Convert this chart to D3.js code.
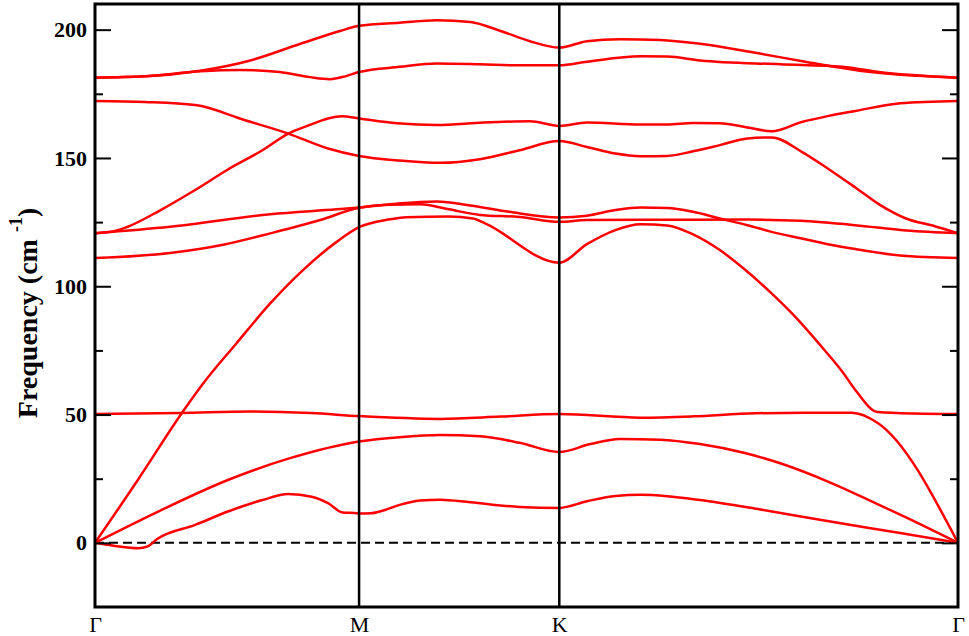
<!DOCTYPE html>
<html>
<head>
<meta charset="utf-8">
<script src="https://cdn.jsdelivr.net/npm/d3@7"></script>
<style>
  body { margin: 0; background: #fff; }
  svg { display: block; }
</style>
</head>
<body>
<svg id="chart" width="969" height="636"></svg>
<script>
// high symmetry points along the k-path (fraction of path length)
const kTicks = [0, 0.306, 0.538, 1];
const kLabels = ["\u0393", "M", "K", "\u0393"];

const yMajor = [0, 50, 100, 150, 200];
const yMinor = [25, 75, 125, 175];

// phonon branches, [k, frequency in cm-1]
const band1 = [[0,0],[0.023,-1.2],[0.050,-2.1],[0.061,-1.4],[0.072,1.5],[0.116,7],[0.154,12.2],[0.194,16.7],[0.224,19],[0.251,18],[0.270,15.5],[0.287,11.8],[0.301,11.6],[0.306,11.4],
  [0.319,11.5],[0.336,12.8],[0.353,14.8],[0.377,16.5],[0.400,16.8],[0.435,15.8],[0.492,14],[0.538,13.6],
  [0.570,16.2],[0.603,18.3],[0.632,18.7],[0.663,18.2],[0.701,16.7],[0.771,13],[0.840,9],[0.933,3.8],[1,0]];
const band2 = [[0,0],[0.075,12.5],[0.154,24.5],[0.226,33],[0.306,39.5],
  [0.353,41.2],[0.400,42],[0.446,41.5],[0.492,39],[0.538,35.4],
  [0.574,38.5],[0.608,40.5],[0.655,40.2],[0.701,38.5],[0.753,35],[0.794,31],[0.852,23.5],[0.898,16.5],[0.941,9.7],[1,0]];
const band3 = [[0,0],[0.050,24.7],[0.1005,50.5],[0.1255,62.2],[0.164,77.8],[0.203,93.3],[0.241,106.3],[0.280,117.3],[0.306,123],
  [0.340,126],[0.361,126.9],[0.410,127.2],[0.438,126.4],[0.452,124.5],[0.538,109.2],
  [0.570,116.4],[0.603,121.9],[0.632,124.2],[0.663,123.7],[0.693,120.2],[0.724,114.1],[0.753,106.5],[0.784,97.2],[0.815,86.8],[0.842,76.4],[0.866,66.7],[0.881,59.6],[0.907,51],[0.950,50.4],[1,50.2]];
const band4 = [[0,50.2],[0.100,50.6],[0.180,51.2],[0.250,50.6],[0.306,49.4],
  [0.400,48.3],[0.470,49.2],[0.538,50.2],
  [0.632,48.8],[0.693,49.3],[0.765,50.5],[0.823,50.7],[0.877,50.7],[0.907,46.7],[1,0]];
const band5 = [[0,111],[0.087,113],[0.150,116.3],[0.203,120.6],[0.261,125.8],[0.306,130.6],
  [0.340,131.8],[0.377,132],[0.410,130],[0.446,127.8],[0.492,127],[0.538,125.1],
  [0.570,125.8],[0.663,125.9],[0.756,126],[0.817,125.5],[0.881,123.8],[0.940,121.7],[1,120.7]];
const band6 = [[0,120.7],[0.087,123.2],[0.203,128.1],[0.280,130],[0.306,130.7],
  [0.350,132.2],[0.396,133],[0.435,131.5],[0.480,129],[0.538,126.8],
  [0.570,127.5],[0.603,129.7],[0.632,130.7],[0.663,130.5],[0.693,129],[0.724,126.4],[0.756,123.8],[0.784,121.2],[0.819,118.6],[0.849,116.4],[0.881,114.5],[0.933,112],[1,111]];
const band7 = [[0,120.7],[0.023,121.5],[0.038,123.2],[0.075,129.5],[0.116,137.5],[0.154,145.5],[0.194,153],[0.224,159.5],[0.250,163],[0.270,165.4],[0.286,166.3],[0.306,165.4],
  [0.350,163.5],[0.396,162.8],[0.450,163.8],[0.504,164.3],[0.538,162.5],
  [0.570,163.8],[0.632,163],[0.663,163],[0.693,163.6],[0.724,163.5],[0.756,161.9],[0.784,160.4],[0.819,164],[0.849,166.3],[0.881,168.3],[0.933,171.3],[1,172.2]];
const band8 = [[0,172.2],[0.058,171.8],[0.116,170.6],[0.174,164.7],[0.224,159.5],[0.270,153.7],[0.306,150.8],
  [0.353,149],[0.400,148.1],[0.446,149.5],[0.492,153],[0.538,156.6],
  [0.570,154.3],[0.603,151.7],[0.632,150.7],[0.663,150.8],[0.693,152.6],[0.724,155],[0.756,157.6],[0.784,158],[0.819,152.4],[0.849,145.9],[0.881,138.5],[0.910,131.6],[0.939,126.5],[0.973,123.4],[1,120.7]];
const band9 = [[0,181.3],[0.058,181.8],[0.122,183.8],[0.168,184.3],[0.214,183.5],[0.249,181.5],[0.272,180.7],[0.290,181.8],[0.306,183.5],
  [0.353,185.5],[0.396,186.8],[0.446,186.5],[0.492,186.1],[0.538,186.1],
  [0.570,187.5],[0.632,189.6],[0.663,189.5],[0.701,188],[0.794,186.5],[0.866,185.5],[0.910,183.4],[1,181.3]];
const band10 = [[0,181.3],[0.058,181.8],[0.122,184],[0.180,188],[0.238,194.5],[0.284,199.5],[0.306,201.5],
  [0.353,202.7],[0.396,203.7],[0.435,203],[0.470,199.5],[0.504,195.5],[0.538,193],
  [0.570,195.5],[0.608,196.3],[0.655,196],[0.701,194.5],[0.765,191],[0.823,187.5],[0.886,184],[1,181.3]];

const bands = [band1, band2, band3, band4, band5, band6, band7, band8, band9, band10];

const margin = {top: 4, right: 11, bottom: 29, left: 95};
const width = 969, height = 636;

const svg = d3.select("#chart");

const x = d3.scaleLinear().domain([0, 1]).range([margin.left, width - margin.right]);
const y = d3.scaleLinear().domain([-25, 210]).range([height - margin.bottom, margin.top]);

// zero line
svg.append("line")
    .attr("x1", x(0)).attr("x2", x(1))
    .attr("y1", y(0)).attr("y2", y(0))
    .attr("stroke", "#000")
    .attr("stroke-width", 2)
    .attr("stroke-dasharray", "9,5");

const line = d3.line()
    .x(d => x(d[0]))
    .y(d => y(d[1]))
    .curve(d3.curveMonotoneX);

svg.append("g").selectAll("path")
    .data(bands)
    .enter()
    .append("path")
    .attr("d", line)
    .attr("fill", "none")
    .attr("stroke", "#ff0000")
    .attr("stroke-width", 2.5)
    .attr("stroke-linejoin", "round");

// vertical lines at M and K
svg.append("g").selectAll("line")
    .data(kTicks.slice(1, 3))
    .enter()
    .append("line")
    .attr("x1", d => x(d)).attr("x2", d => x(d))
    .attr("y1", y(210)).attr("y2", y(-25))
    .attr("stroke", "#000")
    .attr("stroke-width", 2.5);

// axes, ticks inward
const tickStyle = g => {
    g.select(".domain").remove();
    g.selectAll(".tick line").attr("stroke", "#000").attr("stroke-width", 2);
};

svg.append("g")
    .attr("transform", `translate(${x(0)},0)`)
    .call(d3.axisLeft(y).tickValues(yMajor).tickSize(-16).tickPadding(8))
    .call(tickStyle)
    .selectAll("text")
    .attr("font-family", "'Liberation Serif', 'Times New Roman', serif")
    .attr("font-weight", "bold")
    .attr("font-size", 22)
    .attr("fill", "#000");

svg.append("g")
    .attr("transform", `translate(${x(0)},0)`)
    .call(d3.axisLeft(y).tickValues(yMinor).tickSize(-8).tickFormat(""))
    .call(tickStyle);

svg.append("g")
    .attr("transform", `translate(${x(1)},0)`)
    .call(d3.axisRight(y).tickValues(yMajor).tickSize(-16).tickFormat(""))
    .call(tickStyle);

svg.append("g")
    .attr("transform", `translate(${x(1)},0)`)
    .call(d3.axisRight(y).tickValues(yMinor).tickSize(-8).tickFormat(""))
    .call(tickStyle);

svg.append("g")
    .attr("transform", `translate(0,${y(-25)})`)
    .call(d3.axisBottom(x).tickValues(kTicks).tickSize(0).tickPadding(9)
        .tickFormat((d, i) => kLabels[i]))
    .call(g => g.select(".domain").remove())
    .selectAll("text")
    .attr("font-family", "'Liberation Serif', 'Times New Roman', serif")
    .attr("font-size", 22)
    .attr("fill", "#000");

// frame
svg.append("rect")
    .attr("x", x(0)).attr("y", y(210))
    .attr("width", x(1) - x(0))
    .attr("height", y(-25) - y(210))
    .attr("fill", "none")
    .attr("stroke", "#000")
    .attr("stroke-width", 3);

// y label
const ylab = svg.append("text")
    .attr("transform", "translate(37,313) rotate(-90)")
    .attr("text-anchor", "middle")
    .attr("font-family", "'Liberation Serif', 'Times New Roman', serif")
    .attr("font-weight", "bold")
    .attr("font-size", 28)
    .attr("fill", "#000");
ylab.append("tspan").text("Frequency (cm ");
ylab.append("tspan").attr("font-size", 18).attr("dy", -15).text("-1");
ylab.append("tspan").attr("dy", 15).text(")");
</script>
</body>
</html>
